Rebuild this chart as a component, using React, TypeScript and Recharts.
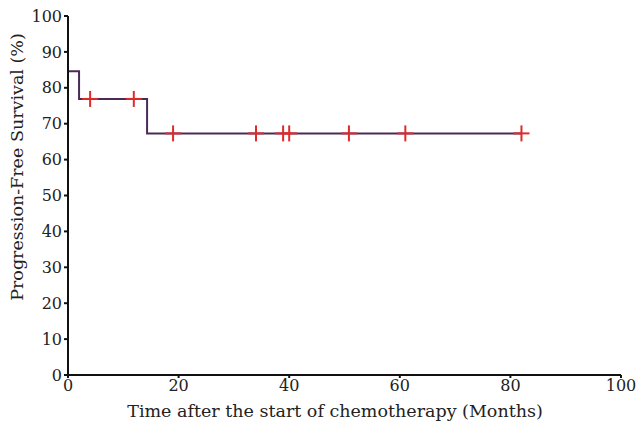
import { useEffect } from 'react';
import { ComposedChart, Line, Scatter, XAxis, YAxis } from 'recharts';

// Kaplan-Meier step curve (months, % progression-free)
const stepMonths = [0, 2, 14.3, 82];
const stepSurvival = [84.6, 76.9, 67.3, 67.3];

// censored observations
const censorMonths = [4, 11.9, 19, 34, 38.9, 40, 50.8, 61, 82];
const censorSurvival = [76.9, 76.9, 67.3, 67.3, 67.3, 67.3, 67.3, 67.3, 67.3];

const xTicks = [0, 20, 40, 60, 80, 100];
const yTicks = [0, 10, 20, 30, 40, 50, 60, 70, 80, 90, 100];

const curveData = stepMonths.map((m, i) => ({ month: m, pfs: stepSurvival[i] }));
const censorData = censorMonths.map((m, i) => ({ month: m, pfs: censorSurvival[i] }));

const font = '"DejaVu Serif", "Liberation Serif", serif';

function CensorMark(props: any) {
  const { cx, cy } = props;
  if (cx == null || cy == null) return null;
  return (
    <g stroke="#e02a2a" strokeWidth={2}>
      <line x1={cx - 8} y1={cy} x2={cx + 8} y2={cy} />
      <line x1={cx} y1={cy - 8} x2={cx} y2={cy + 8} />
    </g>
  );
}

function YTitle() {
  return (
    <text
      x={23}
      y={167}
      transform="rotate(-90, 23, 167)"
      textAnchor="middle"
      fill="#222"
      fontSize={17.5}
      fontFamily={font}
    >
      Progression-Free Survival (%)
    </text>
  );
}

function XTitle() {
  return (
    <text x={335} y={417} textAnchor="middle" fill="#222" fontSize={17.5} fontFamily={font}>
      Time after the start of chemotherapy (Months)
    </text>
  );
}

export default function App() {
  useEffect(() => {
    document.body.style.margin = '0';
  }, []);

  return (
    <div style={{ width: 638, height: 424, background: '#fff' }}>
      <ComposedChart width={638} height={424} margin={{ top: 16, right: 17, bottom: 10, left: 0 }}>
        <XAxis
          dataKey="month"
          type="number"
          domain={[0, 100]}
          ticks={xTicks}
          allowDataOverflow
          stroke="#111"
          strokeWidth={2}
          tickSize={3}
          tick={{ fill: '#222', fontSize: 16, fontFamily: font }}
          height={39}
          label={<XTitle />}
        />
        <YAxis
          type="number"
          domain={[0, 100]}
          ticks={yTicks}
          stroke="#111"
          strokeWidth={2}
          tickSize={4}
          width={68}
          tick={{ fill: '#222', fontSize: 16, fontFamily: font }}
          label={<YTitle />}
        />
        <Line
          data={curveData}
          dataKey="pfs"
          type="stepAfter"
          stroke="#4b2a59"
          strokeWidth={2}
          dot={false}
          activeDot={false}
          isAnimationActive={false}
        />
        <Scatter data={censorData} dataKey="pfs" shape={<CensorMark />} isAnimationActive={false} />
      </ComposedChart>
    </div>
  );
}
